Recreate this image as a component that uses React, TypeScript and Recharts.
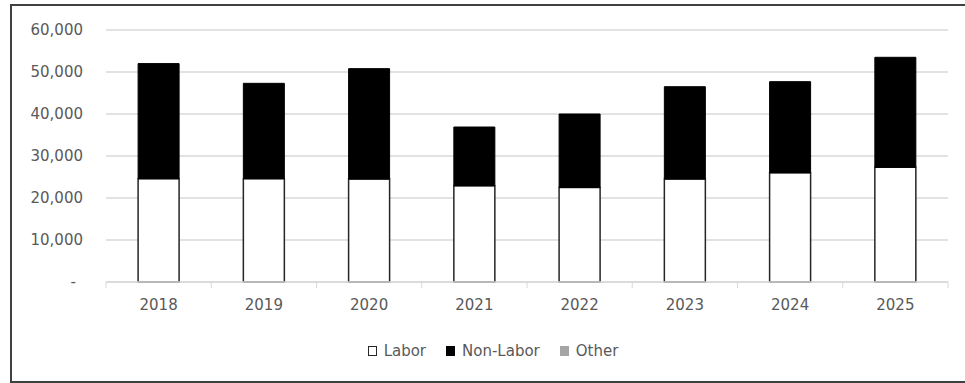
import React from "react";
import { BarChart, Bar, XAxis, YAxis, CartesianGrid, Legend } from "recharts";

const years = ["2018", "2019", "2020", "2021", "2022", "2023", "2024", "2025"];
const labor = [24600, 24600, 24500, 22900, 22500, 24500, 26000, 27300];
const nonLabor = [27400, 22700, 26300, 14000, 17500, 22000, 21700, 26200];
const other = [0, 0, 0, 0, 0, 0, 0, 0];
const yTicks = [0, 10000, 20000, 30000, 40000, 50000, 60000];

const seriesNames = ["Labor", "Non-Labor", "Other"];
const seriesFills = ["#ffffff", "#000000", "#a5a5a5"];

const data = years.map((y, i) => ({
  year: y,
  Labor: labor[i],
  "Non-Labor": nonLabor[i],
  Other: other[i],
}));

const FONT = "'DejaVu Sans', Verdana, sans-serif";
const TEXT = "#595959";
const GRID = "#d9d9d9";

const fmt = (v: number) => (v === 0 ? "-" : v.toLocaleString("en-US"));

const YTick = (props: any) => {
  const { x, y, payload } = props;
  const v = payload.value;
  return (
    <text
      x={v === 0 ? x - 7 : x}
      y={y}
      dy="0.355em"
      textAnchor="end"
      fill={TEXT}
      fontSize={15}
      fontFamily={FONT}
    >
      {fmt(v)}
    </text>
  );
};

const XTick = (props: any) => {
  const { x, y, payload, width, visibleTicksCount, index } = props;
  const band = width / visibleTicksCount;
  const left = x - band / 2;
  const right = x + band / 2;
  return (
    <g>
      <line x1={left} y1={y} x2={left} y2={y + 6} stroke={GRID} strokeWidth={1} />
      {index === visibleTicksCount - 1 && (
        <line x1={right} y1={y} x2={right} y2={y + 6} stroke={GRID} strokeWidth={1} />
      )}
      <text
        x={x}
        y={y + 17}
        dy="0.71em"
        textAnchor="middle"
        fill={TEXT}
        fontSize={15}
        fontFamily={FONT}
      >
        {payload.value}
      </text>
    </g>
  );
};

const LegendContent = () => (
  <div
    style={{
      display: "flex",
      justifyContent: "center",
      alignItems: "center",
      fontFamily: FONT,
      fontSize: 15,
      color: TEXT,
      paddingLeft: 38,
    }}
  >
    {seriesNames.map((n, i) => (
      <div key={n} style={{ display: "flex", alignItems: "center", marginRight: i < 2 ? 20 : 0 }}>
        <span
          style={{
            display: "inline-block",
            width: 9,
            height: 10,
            boxSizing: "border-box",
            background: seriesFills[i],
            border: i === 0 ? "1.5px solid #262626" : i === 1 ? "1px solid #000" : "none",
            marginRight: 7,
          }}
        />
        <span>{n}</span>
      </div>
    ))}
  </div>
);

export default function App() {
  return (
    <div
      style={{
        position: "absolute",
        left: 0,
        top: 0,
        width: 965,
        height: 383,
        overflow: "hidden",
        background: "#fff",
      }}
    >
      <div
        style={{
          position: "absolute",
          left: 10,
          top: 4,
          width: 962,
          height: 379,
          boxSizing: "border-box",
          border: "2px solid #404040",
        }}
      />
      <div style={{ position: "absolute", left: 0, top: 0 }}>
        <BarChart
          width={965}
          height={383}
          data={data}
          margin={{ top: 30, right: 17, left: 0, bottom: 0 }}
          barCategoryGap="30.5%"
        >
          <CartesianGrid vertical={false} stroke={GRID} strokeWidth={1.3} />
          <XAxis
            dataKey="year"
            axisLine={{ stroke: GRID, strokeWidth: 1.3 }}
            tickLine={false}
            tickSize={0}
            tickMargin={0}
            height={60}
            tick={<XTick />}
            interval={0}
          />
          <YAxis
            domain={[0, 60000]}
            ticks={yTicks}
            axisLine={false}
            tickLine={false}
            tickSize={0}
            tickMargin={23}
            width={106}
            tick={<YTick />}
          />
          <Legend verticalAlign="bottom" height={41} content={<LegendContent />} />
          <Bar dataKey="Labor" stackId="a" fill={seriesFills[0]} stroke="#262626" strokeWidth={1.5} isAnimationActive={false} />
          <Bar dataKey="Non-Labor" stackId="a" fill={seriesFills[1]} stroke="#000" strokeWidth={1} isAnimationActive={false} />
          <Bar dataKey="Other" stackId="a" fill={seriesFills[2]} isAnimationActive={false} />
        </BarChart>
      </div>
    </div>
  );
}
